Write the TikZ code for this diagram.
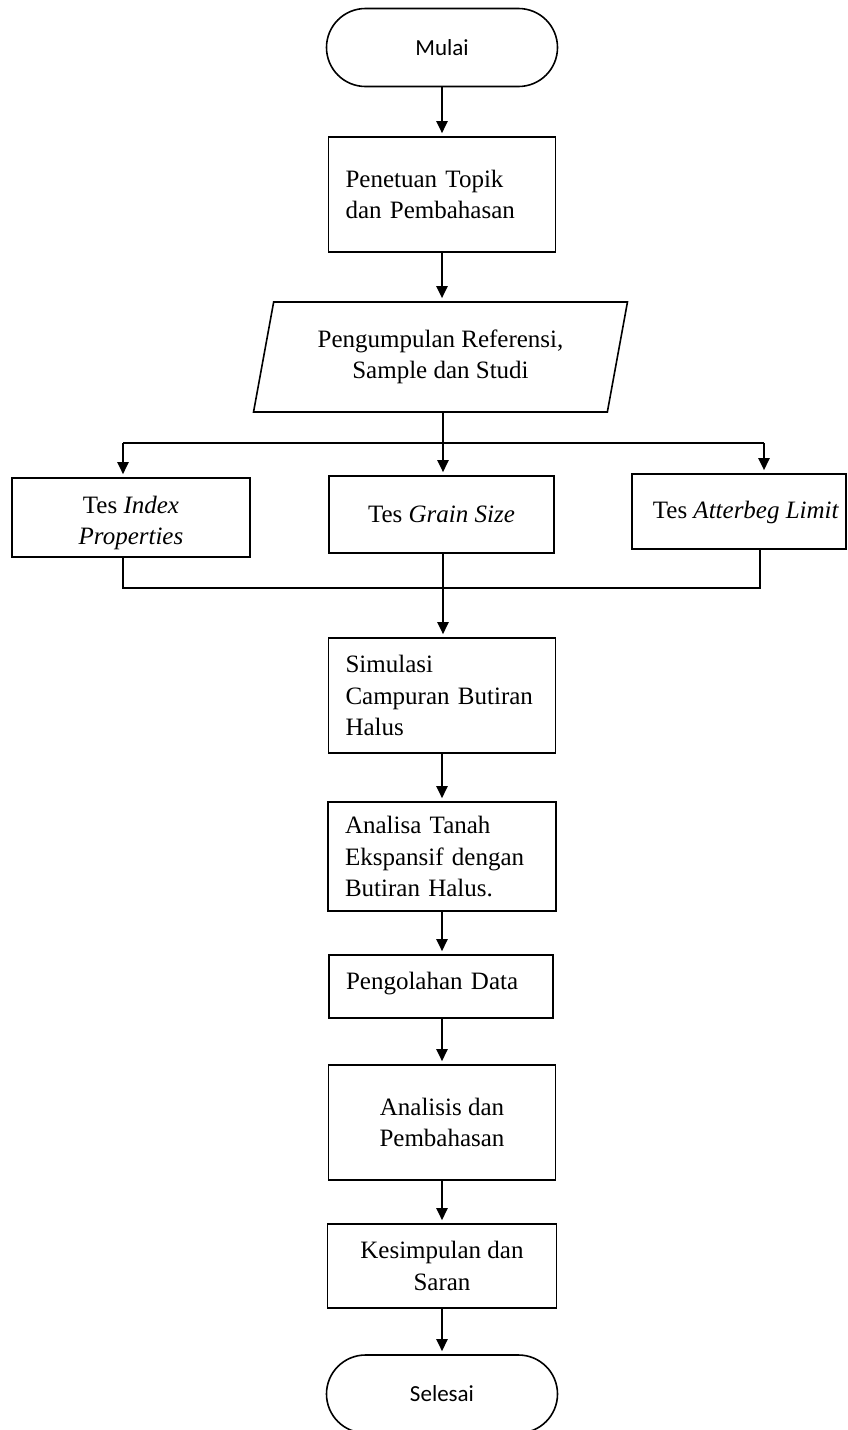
\documentclass[tikz,border=0pt]{standalone}
\usepackage{fontspec}
\setmainfont{Liberation Serif}
\newfontfamily\calib{Carlito}
\usetikzlibrary{arrows.meta,shapes.geometric}
\begin{document}
\begin{tikzpicture}[x=1pt,y=-1pt,
  box/.style={draw,line width=1.6pt,rectangle,font=\fontsize{25}{31.5}\selectfont},
  lbox/.style={box,align=left,inner xsep=17pt},
  cbox/.style={box,align=center},
  txt/.style={font=\fontsize{25}{31.5}\selectfont,align=center},
  term/.style={draw,line width=1.6pt,rectangle,rounded corners=39pt,minimum width=231pt,minimum height=78pt,font=\calib\fontsize{23}{27}\selectfont},
  conn/.style={line width=2.4pt},
  arr/.style={conn,-{Triangle[length=12pt,width=11pt]},shorten >=3pt}
]
\useasboundingbox (0,0) rectangle (847,1430);

\node[term] (mulai) at (442,47.5) {Mulai};
\node[lbox,text width=193pt,minimum height=115pt] (topik) at (442,194.5) {Penetuan Topik\\dan Pembahasan};
\node[draw,line width=1.6pt,trapezium,trapezium left angle=76,trapezium right angle=104,trapezium stretches=true,minimum width=375pt,minimum height=110pt,align=center,font=\fontsize{25}{31.5}\selectfont] (ref) at (440.5,357) {Pengumpulan Referensi,\\Sample dan Studi};

\node[box,minimum width=238pt,minimum height=79pt] (index) at (131,517.5) {};
\node[txt] (indextxt) at (131,523) {Tes \textit{Index}\\\textit{Properties}};
\node[cbox,minimum width=225pt,minimum height=77pt] (grain) at (441.5,514.5) {Tes \textit{Grain Size}};
\node[box,minimum width=214pt,minimum height=75pt] (atter) at (739,511.5) {};
\node[txt] (attertxt) at (746,512) {Tes \textit{Atterbeg Limit}};

\node[lbox,text width=193pt,minimum height=115pt] (simulasi) at (442,695.5) {Simulasi\\Campuran Butiran\\Halus};
\node[lbox,text width=194pt,minimum height=109pt] (analisa) at (442,856.5) {Analisa Tanah\\Ekspansif dengan\\Butiran Halus.};
\node[lbox,text width=190pt,minimum height=63pt,text depth=12pt] (olah) at (441,986.5) {Pengolahan Data};
\node[cbox,minimum width=227pt,minimum height=115pt] (analisis) at (442,1122.5) {Analisis dan\\Pembahasan};
\node[cbox,minimum width=229pt,minimum height=84pt] (simpul) at (442,1266) {Kesimpulan dan\\Saran};
\node[term] (selesai) at (442,1394) {Selesai};

\coordinate (split) at (443,443);
\coordinate (sl) at (123,443);
\coordinate (sr) at (764,443);
\coordinate (jl) at (123,588);
\coordinate (jm) at (443,588);
\coordinate (jr) at (760,588);

\draw[arr] (mulai.south) -- (topik.north);
\draw[arr] (topik.south) -- (ref.north -| topik.south);
\draw[conn] (ref.south -| split) -- (split);
\draw[conn] (sl) -- (sr);
\draw[arr] (sl) -- (sl |- index.north);
\draw[arr] (split) -- (split |- grain.north);
\draw[arr] (sr) -- (sr |- atter.north);
\draw[conn] (jl |- index.south) -- (jl) -- (jr) -- (jr |- atter.south);
\draw[conn] (jm |- grain.south) -- (jm);
\draw[arr] (jm) -- (jm |- simulasi.north);
\draw[arr] (simulasi.south) -- (analisa.north);
\draw[arr] (analisa.south) -- (olah.north -| analisa.south);
\draw[arr] (olah.south -| analisa.south) -- (analisis.north);
\draw[arr] (analisis.south) -- (simpul.north);
\draw[arr] (simpul.south) -- (selesai.north);
\end{tikzpicture}
\end{document}
